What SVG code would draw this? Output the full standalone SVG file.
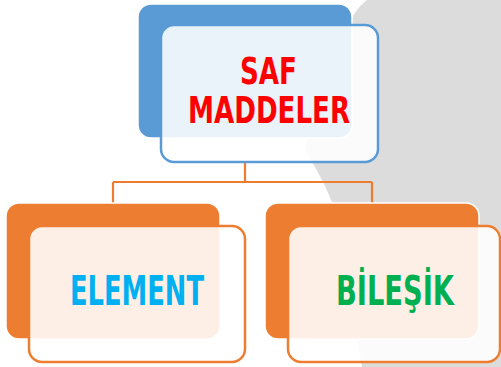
<svg xmlns="http://www.w3.org/2000/svg" width="501" height="367" viewBox="0 0 501 367">
<style>
.back{stroke:#ffffff;stroke-width:1.5}
.front{fill:#ffffff;fill-opacity:0.88;stroke-width:2.5}
.lbl{font-family:"DejaVu Sans Condensed","DejaVu Sans","Liberation Sans",sans-serif;font-weight:bold;font-size:41px}
.top{font-size:37px}
.conn{fill:none;stroke:#ed7d31;stroke-width:2.2}
</style>
<rect width="501" height="367" fill="#ffffff"/>
<path d="M367,0 L501,0 L501,367 L362,367 C352,300 342,240 333,205 C327,188 316,168 305,150 C318,100 338,45 352,18 C356,10 362,4 367,0 Z" fill="#dcdcdc"/>
<g id="connectors">
<path class="conn" d="M245,162 V182 M113,182 H372 M113,182 V203 M372,182 V205"/>
</g>
<g id="node-saf">
<rect class="back" x="138" y="4" width="214" height="134" rx="13" fill="#5b9bd5"/>
<rect class="front" x="161" y="25" width="217" height="137" rx="13" stroke="#5b9bd5"/>
<text class="lbl top" x="240" y="84" textLength="57" lengthAdjust="spacingAndGlyphs" fill="#ff0000">SAF</text>
<text class="lbl top" x="188" y="123" textLength="162" lengthAdjust="spacingAndGlyphs" fill="#ff0000">MADDELER</text>
</g>
<g id="node-element">
<rect class="back" x="6" y="203" width="214" height="136" rx="13" fill="#ed7d31"/>
<rect class="front" x="29" y="226" width="216" height="136" rx="13" stroke="#ed7d31"/>
<text class="lbl" x="70" y="305" textLength="134" lengthAdjust="spacingAndGlyphs" fill="#00b0f0">ELEMENT</text>
</g>
<g id="node-bilesik">
<rect class="back" x="265" y="203" width="214" height="136" rx="13" fill="#ed7d31"/>
<rect class="front" x="288" y="226" width="212" height="136" rx="13" stroke="#ed7d31"/>
<text class="lbl" x="336" y="305" textLength="118" lengthAdjust="spacingAndGlyphs" fill="#00b050">BİLEŞİK</text>
</g>
</svg>
